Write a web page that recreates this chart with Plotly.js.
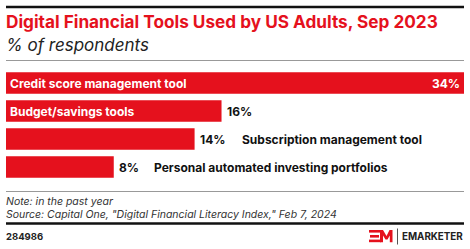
<!DOCTYPE html>
<html>
<head>
<meta charset="utf-8">
<script src="https://cdn.plot.ly/plotly-3.0.1.min.js"></script>
<style>html,body{margin:0;padding:0;background:#fff;}#chart{width:470px;height:249px;}</style>
</head>
<body>
<div id="chart"></div>
<script>
const categories = ["Credit score management tool", "Budget/savings tools", "Subscription management tool", "Personal automated investing portfolios"];
const values = [34, 16, 14, 8];
const valueLabels = ["34%", "16%", "14%", "8%"];

const titleText = "Digital Financial Tools Used by US Adults, Sep 2023";
const subtitleText = "% of respondents";
const noteText = "Note: in the past year";
const sourceText = "Source: Capital One, \"Digital Financial Literacy Index,\" Feb 7, 2024";
const chartId = "284986";

const RED = "#e5111d";
const FONT = "Inter, 'Liberation Sans', Arial, sans-serif";
const W = 470, Hh = 249, ML = 6, MR = 6, MT = 69, MB = 68;
const PW = W - ML - MR, PH = Hh - MT - MB;
const xp = px => (px - ML) / PW;
const yp = py => (Hh - MB - py) / PH;

const annotations = [];
const maxV = Math.max(...values);
const LBL = 12;
categories.forEach((c, i) => {
  const v = values[i];
  const inside = v >= 15;
  if (inside) {
    annotations.push({x: 0, y: c, xref: 'x', yref: 'y', xanchor: 'left', yanchor: 'middle', xshift: 2,
      text: '<b>' + c + '</b>', showarrow: false, font: {family: FONT, size: LBL, color: '#fff'}});
  }
  const valInside = v === maxV;
  annotations.push({x: v, y: c, xref: 'x', yref: 'y', xanchor: valInside ? 'right' : 'left', yanchor: 'middle',
    xshift: valInside ? -2 : 3, text: '<b>' + valueLabels[i] + '</b>', showarrow: false,
    font: {family: FONT, size: LBL, color: valInside ? '#fff' : '#111'}});
  if (!inside) {
    const w = 7.1 * (valueLabels[i].length - 1) + 8;
    annotations.push({x: v, y: c, xref: 'x', yref: 'y', xanchor: 'left', yanchor: 'middle',
      xshift: 3 + w + 20, text: '<b>' + c + '</b>', showarrow: false,
      font: {family: FONT, size: LBL, color: '#111'}});
  }
});

function txt(t, px, py, size, color, opts) {
  return Object.assign({text: t, x: xp(px), y: yp(py), xref: 'paper', yref: 'paper', xanchor: 'left', yanchor: 'middle',
    showarrow: false, font: {family: FONT, size: size, color: color}}, opts || {});
}
annotations.push(txt('<b>' + titleText + '</b>', 4, 22, 17.2, RED));
annotations.push(txt('<i>' + subtitleText + '</i>', 4, 45, 17, '#222'));
annotations.push(txt('<i>' + noteText + '</i>', 4, 201, 10.5, '#333'));
annotations.push(txt('<i>' + sourceText + '</i>', 4, 214.5, 10.5, '#333'));
annotations.push(txt('<b>' + chartId + '</b>', 4, 236.5, 9.5, '#222'));
annotations.push(txt('<b>EMARKETER</b>', 465, 236.5, 9.8, '#222', {xanchor: 'right'}));

function line(x0, x1, py, color, w) {
  return {type: 'line', xref: 'paper', yref: 'paper', x0: xp(x0), x1: xp(x1), y0: yp(py), y1: yp(py), line: {color: color, width: w}};
}
function rect(x0, y0, x1, y1, color) {
  return {type: 'rect', xref: 'paper', yref: 'paper', x0: xp(x0), x1: xp(x1), y0: yp(y0), y1: yp(y1), fillcolor: color, line: {width: 0}};
}
function poly(pts, color) {
  const p = pts.map((q, k) => (k ? 'L' : 'M') + xp(q[0]) + ',' + yp(q[1])).join(' ') + ' Z';
  return {type: 'path', xref: 'paper', yref: 'paper', path: p, fillcolor: color, line: {width: 0}};
}
const shapes = [
  line(6, 464, 7, '#111', 2.5),
  line(6, 464, 60.5, '#999', 1),
  line(6, 464, 191.5, '#999', 1),
  line(6, 464, 223.5, '#111', 2.5),
  {type: 'line', xref: 'paper', yref: 'paper', x0: xp(397.5), x1: xp(397.5), y0: yp(228.5), y1: yp(244.5), line: {color: '#555', width: 1}},
  rect(369, 230, 380, 232.6, RED),
  rect(370, 235, 379, 237.6, RED),
  rect(369, 239.6, 381, 242.2, RED),
  poly([[380, 230], [383, 230], [386.5, 236], [389.5, 230], [392.5, 230], [392.5, 242.2], [389.8, 242.2], [389.8, 235.5], [387.5, 239.5], [385.5, 239.5], [383, 235.5], [383, 242.2], [380, 242.2]], RED)
];

const data = [{
  type: 'bar', orientation: 'h', x: values, y: categories,
  marker: {color: RED}, hoverinfo: 'none', cliponaxis: false
}];
const layout = {
  width: W, height: Hh, margin: {l: ML, r: MR, t: MT, b: MB},
  paper_bgcolor: '#fff', plot_bgcolor: '#fff', bargap: 0.23, showlegend: false,
  xaxis: {range: [0, maxV], visible: false, fixedrange: true},
  yaxis: {autorange: 'reversed', visible: false, fixedrange: true},
  annotations: annotations, shapes: shapes, font: {family: FONT}
};
Plotly.newPlot('chart', data, layout, {staticPlot: true, displayModeBar: false});
</script>
</body>
</html>
